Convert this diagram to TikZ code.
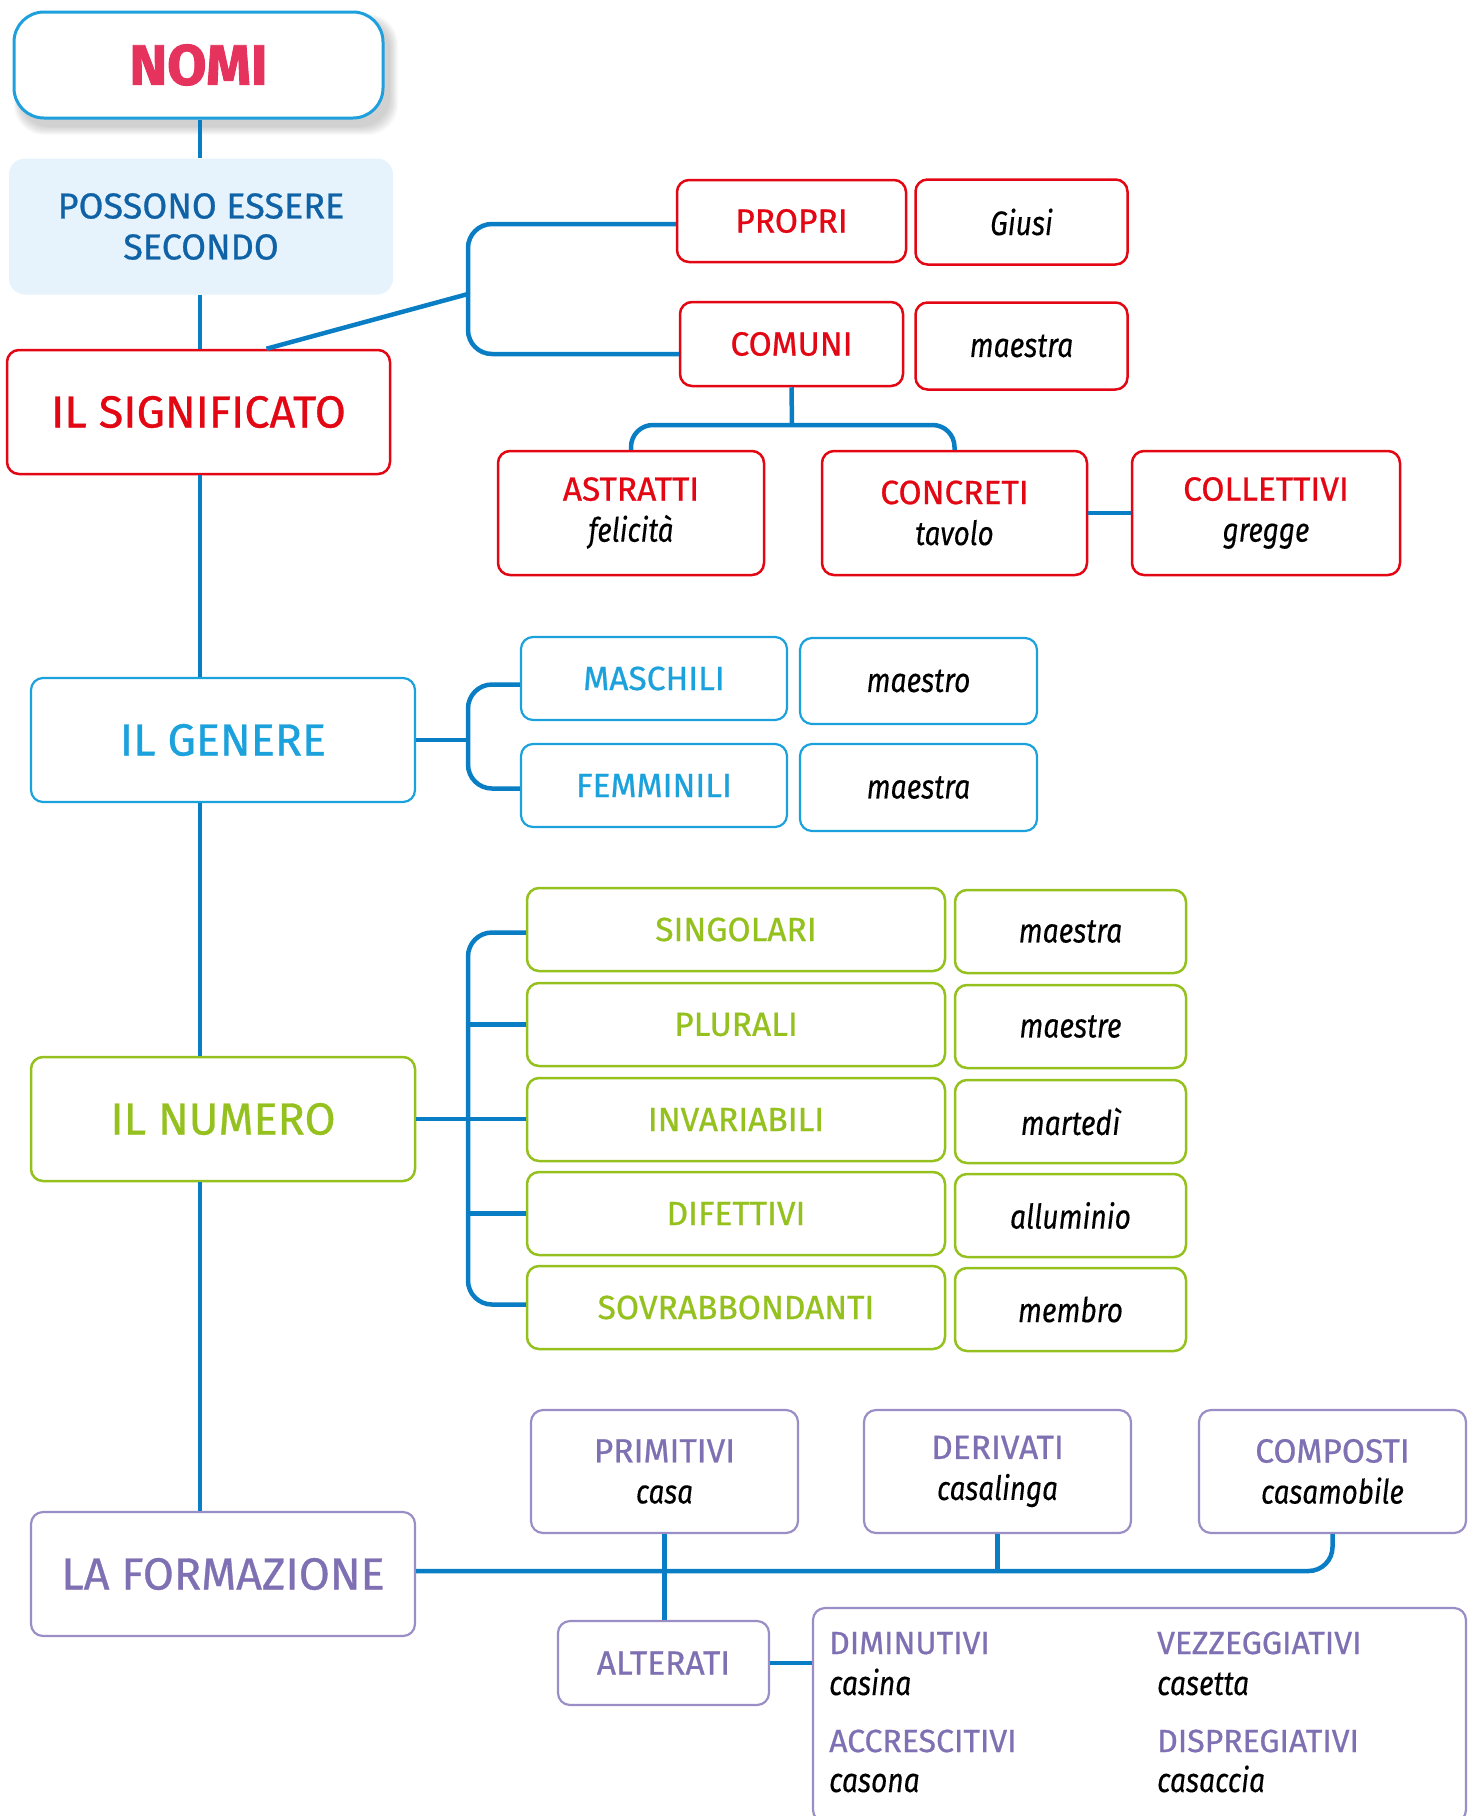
\documentclass[tikz,border=0pt]{standalone}
\usepackage{fontspec}
\setmainfont{Fira Sans}
\newfontfamily\lblfont{Fira Sans}[FakeBold=0.7]
\newfontfamily\exfont{Fira Sans}[FakeStretch=0.83, FakeBold=0.3]
\newfontfamily\nomifont{Fira Sans}[BoldFeatures={FakeBold=1.6}]
\definecolor{conn}{HTML}{0A7EC5}
\definecolor{nred}{HTML}{E30613}
\definecolor{nomitxt}{HTML}{E5335D}
\definecolor{nomibd}{HTML}{1EA0DC}
\definecolor{posfill}{HTML}{E6F3FC}
\definecolor{postxt}{HTML}{0F62A6}
\definecolor{gblue}{HTML}{1BA1DC}
\definecolor{ngreen}{HTML}{95C11F}
\definecolor{ptxt}{HTML}{7E70B2}
\definecolor{pbd}{HTML}{9B8EC6}
\newcommand{\ex}[1]{{\exfont\itshape\color{black}#1}}
\tikzset{
  connline/.style={draw=conn, line width=4.5pt},
  box/.style={rectangle, rounded corners=12pt, line width=2.5pt, inner sep=0pt, align=center, fill=white},
  mainlbl/.style={box, font=\lblfont\fontsize{45}{50}\selectfont},
  sublbl/.style={box, font=\lblfont\fontsize{33.5}{41}\selectfont},
  exlbl/.style={box, font=\exfont\fontsize{34}{41}\selectfont\itshape, text=black},
  redbox/.style={draw=nred, text=nred},
  bluebox/.style={draw=gblue, text=gblue, line width=2.2pt},
  greenbox/.style={draw=ngreen, text=ngreen},
  purplebox/.style={draw=pbd, text=ptxt, line width=2.2pt},
  inlbl/.style={anchor=base west, inner sep=0pt, text=ptxt, font=\lblfont\fontsize{32}{36}\selectfont},
  inex/.style={anchor=base west, inner sep=0pt, text=black, font=\exfont\fontsize{34}{36}\selectfont\itshape},
}
\begin{document}
\begin{tikzpicture}[x=1pt,y=-1pt]
\useasboundingbox (0,0) rectangle (1477,1816);
\coordinate (spine) at (200,0);
% shadow of NOMI
\foreach \i in {1,...,10}{
  \fill[black, opacity=0.018, rounded corners=30pt] (14+6-\i*0.6,12+8-\i*0.6) rectangle (383+6+\i*0.9,118+8+\i*0.9);
}
\node[rectangle, rounded corners=30pt, draw=nomibd, line width=3pt, fill=white, minimum width=369pt, minimum height=106pt, text=nomitxt, font=\nomifont\fontsize{57}{60}\selectfont\bfseries] (nomi) at (198.5,65) {NOMI};
\node[rectangle, rounded corners=16pt, fill=posfill, minimum width=384pt, minimum height=136pt, text=postxt, align=center, font=\lblfont\fontsize{36}{41}\selectfont] (possono) at (201,226.5) {POSSONO ESSERE\\SECONDO};
\node[mainlbl, redbox, minimum width=383pt, minimum height=124pt] (signif) at (198.5,412) {IL SIGNIFICATO};
\node[sublbl, redbox, minimum width=229pt, minimum height=82pt] (propri) at (791.5,221) {PROPRI};
\node[exlbl, redbox, text=black, minimum width=212pt, minimum height=85pt] (giusi) at (1021.5,222) {Giusi};
\node[sublbl, redbox, minimum width=223pt, minimum height=84pt] (comuni) at (791.5,344) {COMUNI};
\node[exlbl, redbox, text=black, minimum width=212pt, minimum height=87pt] (maestraA) at (1021.5,346) {maestra};
\node[sublbl, redbox, minimum width=266pt, minimum height=124pt] (astratti) at (631,513) {ASTRATTI\\\ex{felicità}};
\node[sublbl, redbox, minimum width=265pt, minimum height=124pt] (concreti) at (954.5,513) {CONCRETI\\\ex{tavolo}};
\node[sublbl, redbox, minimum width=268pt, minimum height=124pt] (collettivi) at (1266,513) {COLLETTIVI\\\ex{gregge}};
\node[mainlbl, bluebox, minimum width=384pt, minimum height=124pt] (genere) at (223,740) {IL GENERE};
\node[sublbl, bluebox, minimum width=266pt, minimum height=83pt] (maschili) at (654,678.5) {MASCHILI};
\node[exlbl, bluebox, text=black, minimum width=237pt, minimum height=86pt] (maestro) at (918.5,681) {maestro};
\node[sublbl, bluebox, minimum width=266pt, minimum height=83pt] (femminili) at (654,785.5) {FEMMINILI};
\node[exlbl, bluebox, text=black, minimum width=237pt, minimum height=87pt] (maestraB) at (918.5,787.5) {maestra};
\node[mainlbl, greenbox, minimum width=384pt, minimum height=124pt] (numero) at (223,1119) {IL NUMERO};
\node[sublbl, greenbox, minimum width=418pt, minimum height=83pt] (singolari) at (736,929.5) {SINGOLARI};
\node[sublbl, greenbox, minimum width=418pt, minimum height=83pt] (plurali) at (736,1024.5) {PLURALI};
\node[sublbl, greenbox, minimum width=418pt, minimum height=83pt] (invariabili) at (736,1119.5) {INVARIABILI};
\node[sublbl, greenbox, minimum width=418pt, minimum height=83pt] (difettivi) at (736,1213.5) {DIFETTIVI};
\node[sublbl, greenbox, minimum width=418pt, minimum height=83pt] (sovra) at (736,1307.5) {SOVRABBONDANTI};
\node[exlbl, greenbox, text=black, minimum width=231pt, minimum height=83pt] (exsing) at (1070.5,931.5) {maestra};
\node[exlbl, greenbox, text=black, minimum width=231pt, minimum height=83pt] (explur) at (1070.5,1026.5) {maestre};
\node[exlbl, greenbox, text=black, minimum width=231pt, minimum height=83pt] (exinv) at (1070.5,1121.5) {martedì};
\node[exlbl, greenbox, text=black, minimum width=231pt, minimum height=83pt] (exdif) at (1070.5,1215.5) {alluminio};
\node[exlbl, greenbox, text=black, minimum width=231pt, minimum height=83pt] (exsov) at (1070.5,1309.5) {membro};
\node[mainlbl, purplebox, minimum width=384pt, minimum height=124pt] (formazione) at (223,1574) {LA FORMAZIONE};
\node[sublbl, purplebox, minimum width=267pt, minimum height=123pt] (primitivi) at (664.5,1471.5) {PRIMITIVI\\\ex{casa}};
\node[sublbl, purplebox, minimum width=267pt, minimum height=123pt] (derivati) at (997.5,1471.5) {DERIVATI\\\ex{casalinga}};
\node[sublbl, purplebox, minimum width=267pt, minimum height=123pt] (composti) at (1332.5,1471.5) {COMPOSTI\\\ex{casamobile}};
\node[sublbl, purplebox, minimum width=211pt, minimum height=84pt] (alterati) at (663.5,1663) {ALTERATI};
\node[box, purplebox, minimum width=653pt, minimum height=214pt] (bigbox) at (1139.5,1715) {};
\node[inlbl] (dim) at (829,1654) {DIMINUTIVI};
\node[inex] (casina) at (829,1695) {casina};
\node[inlbl] (acc) at (829,1752) {ACCRESCITIVI};
\node[inex] (casona) at (829,1792) {casona};
\node[inlbl] (vez) at (1157,1654) {VEZZEGGIATIVI};
\node[inex] (casetta) at (1157,1695) {casetta};
\node[inlbl] (disp) at (1157,1752) {DISPREGIATIVI};
\node[inex] (casaccia) at (1157,1792) {casaccia};
% connectors
\draw[connline] (nomi.south -| spine) -- (possono.north -| spine);
\draw[connline] (possono.south -| spine) -- (signif.north -| spine);
\draw[connline] (signif.south -| spine) -- (genere.north -| spine);
\draw[connline] (genere.south -| spine) -- (numero.north -| spine);
\draw[connline] (numero.south -| spine) -- (formazione.north -| spine);
\coordinate (brA) at (468,294);
\draw[connline] ([xshift=68pt]signif.north) -- (brA);
\draw[connline, rounded corners=24pt] ([yshift=-3pt]propri.west) -| (brA) |- ([yshift=-10pt]comuni.west);
\coordinate (cj) at (792,425);
\draw[connline] (comuni.south) -- (cj);
\draw[connline, rounded corners=22pt] (astratti.north) |- (cj) -| (concreti.north);
\draw[connline] (concreti) -- (collettivi);
\coordinate (gb) at (468,740);
\draw[connline] (genere.east) -- (gb);
\draw[connline, rounded corners=24pt] ([yshift=-6pt]maschili.west) -| (gb) |- ([yshift=-3pt]femminili.west);
\coordinate (nb) at (468,1119);
\draw[connline, rounded corners=24pt] ([yshift=-3pt]singolari.west) -| (nb) |- ([yshift=3pt]sovra.west);
\draw[connline] (numero.east) -- (numero.east -| invariabili.west);
\draw[connline] (plurali.west -| nb) -- (plurali.west);
\draw[connline] (difettivi.west -| nb) -- (difettivi.west);
\draw[connline, rounded corners=24pt] ([yshift=3pt]formazione.east) -| (composti.south);
\draw[connline] (derivati.south) -- (derivati.south |- 0,1571);
\draw[connline] (primitivi.south) -- (primitivi.south |- alterati.north);
\draw[connline] (alterati.east) -- (alterati.east -| bigbox.west);
\end{tikzpicture}
\end{document}
